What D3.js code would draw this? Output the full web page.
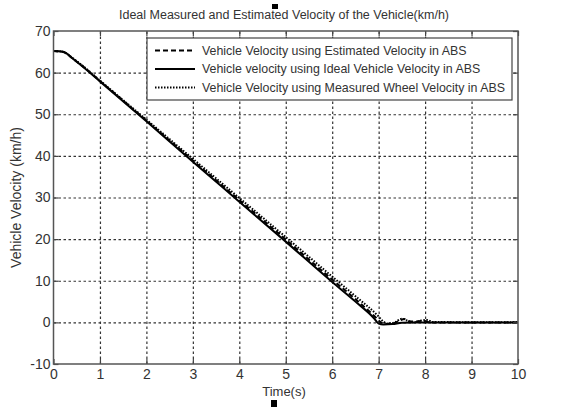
<!DOCTYPE html>
<html>
<head>
<meta charset="utf-8">
<script src="https://cdn.jsdelivr.net/npm/d3@7"></script>
<style>
  body { margin: 0; background: #fff; }
  svg { display: block; font-family: "Liberation Sans", Arial, sans-serif; }
  .tick text { fill: #333; }
</style>
</head>
<body>
<svg id="chart" width="565" height="407"></svg>
<script>
// values
const xTicks = [0, 1, 2, 3, 4, 5, 6, 7, 8, 9, 10];
const yTicks = [-10, 0, 10, 20, 30, 40, 50, 60, 70];

const idealT = [0, 0.2, 0.28, 0.4, 0.6, 1.0, 2.0, 3.0, 4.0, 5.0, 6.0, 6.5, 6.9, 7.0, 7.1, 7.3, 7.5, 7.8, 8.0, 10];
const idealV = [65.2, 65.0, 64.6, 63.5, 61.7, 57.9, 48.3, 38.6, 29.0, 19.4, 9.7, 5.0, 1.0, -0.3, -0.5, -0.4, -0.1, 0, 0, 0];

const estT = [0, 0.2, 0.28, 0.4, 0.6, 1.0, 2.0, 3.0, 4.0, 5.0, 6.0, 6.5, 6.9, 7.05, 7.15, 7.3, 7.45, 7.55, 7.65, 7.8, 7.95, 8.1, 10];
const estV = [65.2, 65.0, 64.6, 63.5, 61.8, 58.0, 48.5, 38.9, 29.4, 19.9, 10.3, 5.6, 1.6, 0.0, -0.4, -0.3, 0.4, 0.8, 0.3, 0.2, 0.4, 0, 0];

const measT = [0, 0.2, 0.28, 0.4, 0.6, 1.0, 2.0, 3.0, 4.0, 5.0, 6.0, 6.5, 7.0, 7.1, 7.2, 7.35, 7.5, 7.6, 7.75, 7.9, 8.05, 8.15, 10];
const measV = [65.2, 65.0, 64.6, 63.6, 61.9, 58.1, 48.7, 39.3, 29.9, 20.5, 11.0, 6.3, 1.4, 0.2, -0.3, 0, 0.9, 0.5, 0, 0.4, 0.6, 0.1, 0];

const legendLabels = [
  "Vehicle Velocity using Estimated Velocity in ABS",
  "Vehicle velocity using Ideal Vehicle Velocity in ABS",
  "Vehicle Velocity using Measured Wheel Velocity in ABS"
];

const margin = { left: 53.5, right: 47, top: 31, bottom: 43 };
const width = 565, height = 407;
const chartWidth = width - margin.left - margin.right;
const chartHeight = height - margin.top - margin.bottom;

const svg = d3.select("#chart");

const xScale = d3.scaleLinear().domain([0, 10]).range([0, chartWidth]);
const yScale = d3.scaleLinear().domain([-10, 70]).range([chartHeight, 0]);

const g = svg.append("g")
  .attr("transform", `translate(${margin.left}, ${margin.top})`);

// grid
g.append("g")
  .attr("transform", `translate(0, ${chartHeight})`)
  .call(d3.axisBottom(xScale).tickValues(xTicks.slice(1, -1)).tickSize(-chartHeight).tickFormat(""))
  .call(a => a.select(".domain").remove())
  .selectAll("line")
  .attr("stroke", "#333").attr("stroke-width", 1.2).attr("stroke-dasharray", "2.5,2.5");

g.append("g")
  .call(d3.axisLeft(yScale).tickValues(yTicks.slice(1, -1)).tickSize(-chartWidth).tickFormat(""))
  .call(a => a.select(".domain").remove())
  .selectAll("line")
  .attr("stroke", "#333").attr("stroke-width", 1.2).attr("stroke-dasharray", "2.5,2.5");

// lines
const line = d3.line()
  .x(d => xScale(d[0]))
  .y(d => yScale(d[1]))
  .curve(d3.curveMonotoneX);

const series = [
  { t: measT, v: measV, dash: "1.5,1.5" },
  { t: estT, v: estV, dash: "5,3" },
  { t: idealT, v: idealV, dash: null }
];

series.forEach(s => {
  g.append("path")
    .datum(d3.zip(s.t, s.v))
    .attr("d", line)
    .attr("fill", "none")
    .attr("stroke", "#000")
    .attr("stroke-width", 2)
    .attr("stroke-dasharray", s.dash);
});

// axes with inward ticks
const styleAxis = a => {
  a.select(".domain").remove();
  a.selectAll("line").attr("stroke", "#444").attr("stroke-width", 1.2);
  a.selectAll("text").attr("font-size", 14).attr("fill", "#333");
};
const plain = d => String(d);

g.append("g")
  .attr("transform", `translate(0, ${chartHeight})`)
  .call(d3.axisBottom(xScale).tickValues(xTicks).tickSize(-5).tickPadding(5).tickFormat(plain))
  .call(styleAxis);

g.append("g")
  .call(d3.axisTop(xScale).tickValues(xTicks).tickSize(-5).tickFormat(""))
  .call(styleAxis);

g.append("g")
  .call(d3.axisLeft(yScale).tickValues(yTicks).tickSize(-5).tickPadding(3).tickFormat(plain))
  .call(styleAxis);

g.append("g")
  .attr("transform", `translate(${chartWidth}, 0)`)
  .call(d3.axisRight(yScale).tickValues(yTicks).tickSize(-5).tickFormat(""))
  .call(styleAxis);

// frame
g.append("rect")
  .attr("width", chartWidth).attr("height", chartHeight)
  .attr("fill", "none").attr("stroke", "#555").attr("stroke-width", 1.5);

// legend
const legend = g.append("g").attr("transform", `translate(${147 - margin.left}, ${38 - margin.top})`);
legend.append("rect")
  .attr("width", 365).attr("height", 62)
  .attr("fill", "#fff").attr("stroke", "#444").attr("stroke-width", 1.2);

const legendDash = ["5,3", null, "1.5,1.5"];
legendLabels.forEach((label, i) => {
  const y = 12.5 + i * 18.5;
  legend.append("line")
    .attr("x1", 8).attr("x2", 48).attr("y1", y).attr("y2", y)
    .attr("stroke", "#000").attr("stroke-width", 2)
    .attr("stroke-dasharray", legendDash[i]);
  legend.append("text")
    .attr("x", 55).attr("y", y).attr("dy", "0.35em")
    .attr("font-size", 12.4).attr("fill", "#333")
    .text(label);
});

// titles
svg.append("text")
  .attr("x", 284).attr("y", 19)
  .attr("text-anchor", "middle").attr("font-size", 12.5).attr("fill", "#333")
  .text("Ideal Measured and Estimated Velocity of the Vehicle(km/h)");

svg.append("text")
  .attr("x", 284).attr("y", 396)
  .attr("text-anchor", "middle").attr("font-size", 13).attr("fill", "#333")
  .text("Time(s)");

svg.append("text")
  .attr("transform", `translate(21, ${margin.top + chartHeight / 2}) rotate(-90)`)
  .attr("text-anchor", "middle").attr("font-size", 14).attr("fill", "#333")
  .text("Vehicle Velocity (km/h)");

// small black marks present in the picture
svg.append("rect").attr("x", 272).attr("y", 4).attr("width", 6).attr("height", 5).attr("fill", "#000");
svg.append("rect").attr("x", 271).attr("y", 400).attr("width", 6).attr("height", 7).attr("fill", "#000");
</script>
</body>
</html>
